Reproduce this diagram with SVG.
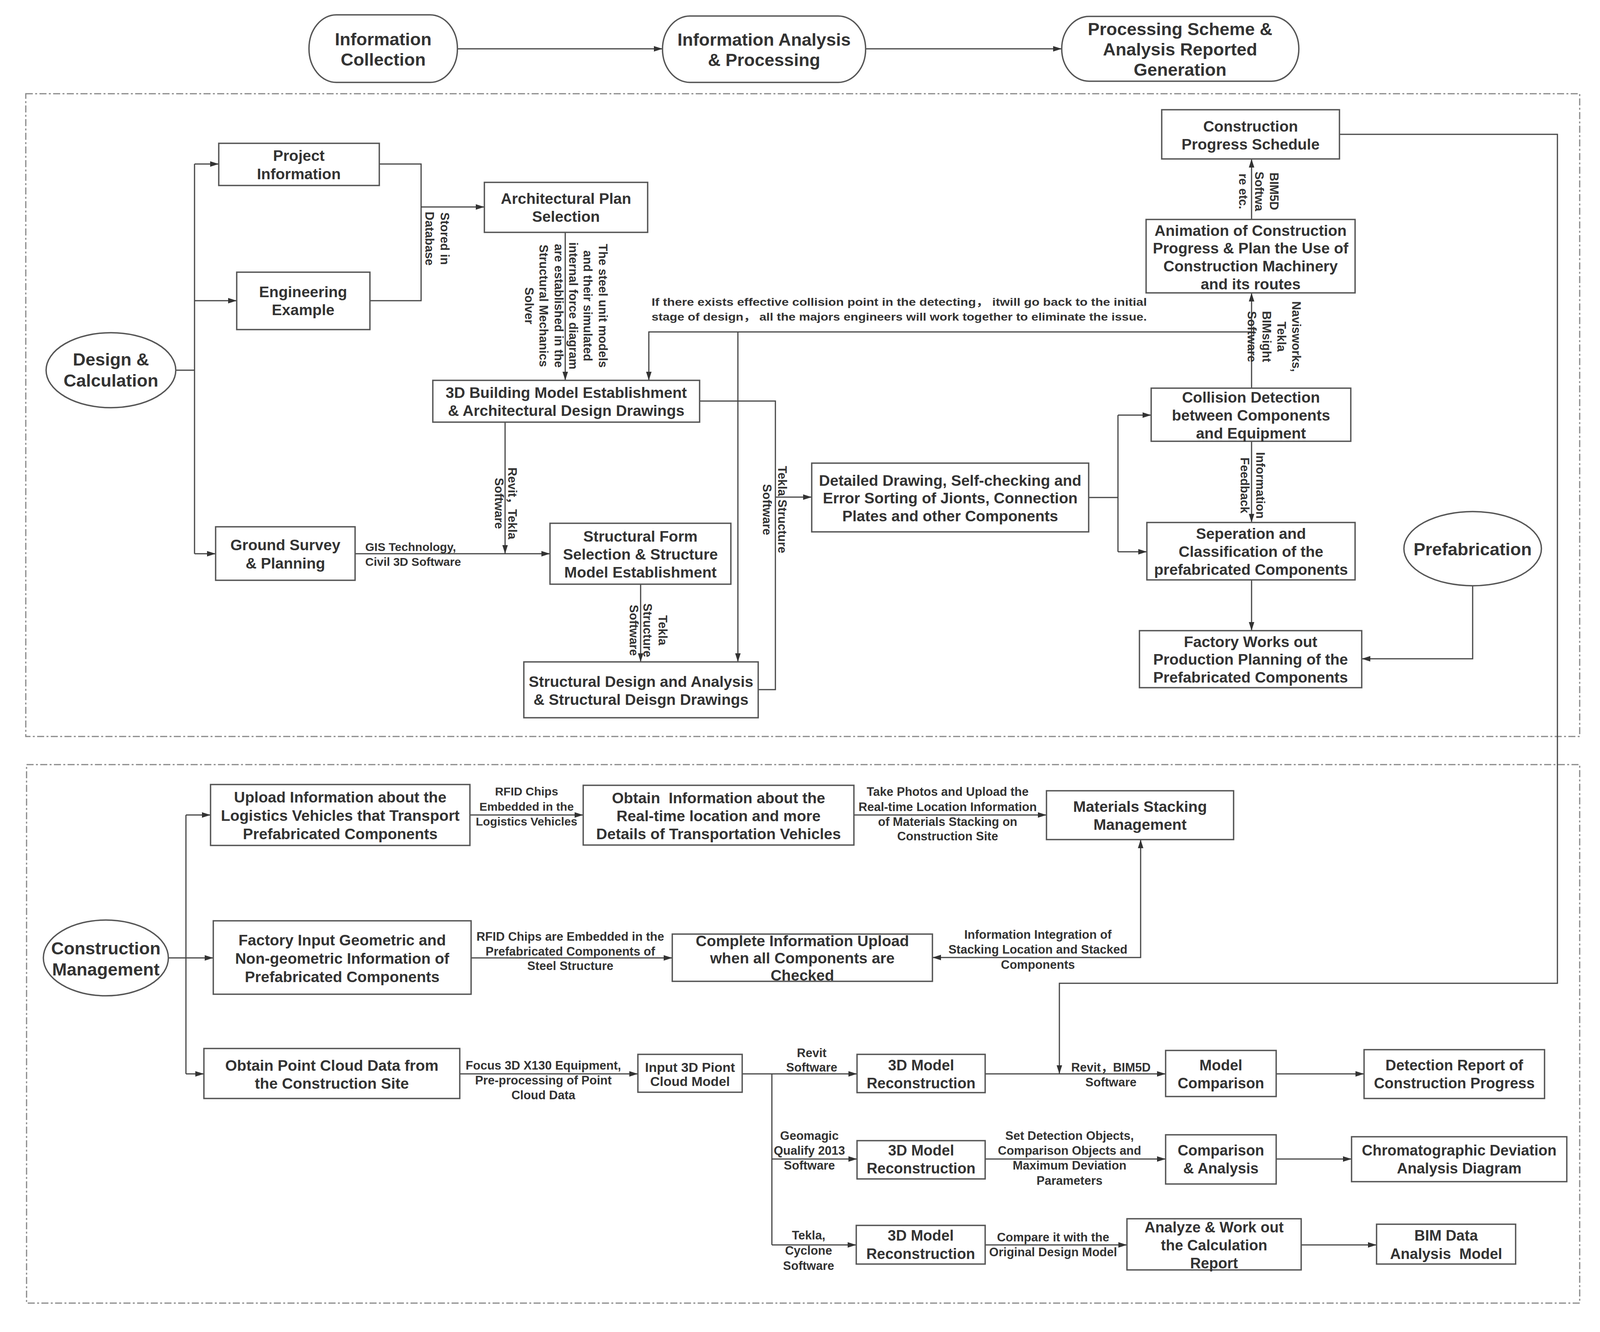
<svg xmlns="http://www.w3.org/2000/svg" width="4106" height="3411" viewBox="0 0 4106 3411">
<style>
.box{fill:#fff;stroke:#555;stroke-width:3.5}
.t{font-family:"Liberation Sans","Noto Sans CJK SC",sans-serif;font-weight:bold;fill:#333;text-anchor:middle;dominant-baseline:central}
.t tspan{dominant-baseline:central}
.s{text-anchor:start}
.f45{font-size:45px}.f39{font-size:39px}.f38{font-size:38px}.f34{font-size:34px}
.l31{font-size:31px}.l30{font-size:30px}.l28{font-size:28px}
.c{fill:none;stroke:#444;stroke-width:3}
.a{marker-end:url(#ah)}
.frame{fill:none;stroke:#888;stroke-width:3;stroke-dasharray:18 6 5 6}
</style>
<defs>
<marker id="ah" markerUnits="userSpaceOnUse" viewBox="0 0 22 14" markerWidth="22" markerHeight="14" refX="22" refY="7" orient="auto-start-reverse"><path d="M0,0 L22,7 L0,14 z" fill="#333"/></marker>
</defs>
<rect width="4106" height="3411" fill="#fff"/>
<g id="frames">
<rect class="frame" x="66" y="240" width="3978" height="1646"/>
<rect class="frame" x="68" y="1958" width="3976" height="1379"/>
</g>
<g id="connectors">
<path class="c a" d="M1171,125 H1696"/>
<path class="c a" d="M2216,125 H2718"/>
<path class="c" d="M450,948 H498"/>
<path class="c" d="M498,420 V1418"/>
<path class="c a" d="M498,420 H560"/>
<path class="c a" d="M498,770 H606"/>
<path class="c a" d="M498,1418 H552"/>
<path class="c" d="M971,420 H1078 V770 H947"/>
<path class="c a" d="M1078,530 H1240"/>
<path class="c a" d="M1447,595 V974"/>
<path class="c a" d="M3204,994 V750"/>
<path class="c a" d="M3204,850 H1661 V974"/>
<path class="c a" d="M1889,850 V1695"/>
<path class="c" d="M1791,1027 H1985 V1766 H1941"/>
<path class="c a" d="M1985,1273 H2078"/>
<path class="c a" d="M1293,1081 V1418"/>
<path class="c a" d="M909,1418 H1408"/>
<path class="c a" d="M1640,1496 V1695"/>
<path class="c" d="M2787,1274 H2862"/>
<path class="c" d="M2862,1063 V1413"/>
<path class="c a" d="M2862,1063 H2947"/>
<path class="c a" d="M2862,1413 H2936"/>
<path class="c a" d="M3204,1130 V1338"/>
<path class="c a" d="M3204,1485 V1615"/>
<path class="c a" d="M3770,1500 V1687 H3486"/>
<path class="c a" d="M3204,562 V407"/>
<path class="c a" d="M3429,344 H3987 V2518 H2712 V2750"/>
<path class="c a" d="M431,2453 H546"/>
<path class="c" d="M476,2087 V2750"/>
<path class="c a" d="M476,2087 H539"/>
<path class="c a" d="M476,2750 H522"/>
<path class="c a" d="M1203,2087 H1493"/>
<path class="c a" d="M2186,2087 H2679"/>
<path class="c a" d="M1206,2453 H1721"/>
<path class="c a" style="marker-start:url(#ah)" d="M2920,2150 V2452 H2387"/>
<path class="c a" d="M1177,2750 H1633"/>
<path class="c a" d="M1900,2750 H2194"/>
<path class="c" d="M1976,2750 V3188"/>
<path class="c a" d="M1976,2968 H2194"/>
<path class="c a" d="M1976,3188 H2192"/>
<path class="c a" d="M2522,2750 H2984"/>
<path class="c a" d="M3267,2750 H3492"/>
<path class="c a" d="M2522,2968 H2984"/>
<path class="c a" d="M3267,2968 H3460"/>
<path class="c a" d="M2522,3188 H2885"/>
<path class="c a" d="M3331,3188 H3524"/>
</g>
<g id="connector-labels">
<text class="t l31" transform="translate(1138,611) rotate(90)">Stored in</text>
<text class="t l31" transform="translate(1099,611) rotate(90)">Database</text>
<text class="t l31" transform="translate(1543,783) rotate(90)">The steel unit models</text>
<text class="t l31" transform="translate(1504,783) rotate(90)">and their simulated</text>
<text class="t l31" transform="translate(1467,783) rotate(90)">internal force diagram</text>
<text class="t l31" transform="translate(1430,783) rotate(90)">are established in the</text>
<text class="t l31" transform="translate(1391,783) rotate(90)">Structural Mechanics</text>
<text class="t l31" transform="translate(1354,783) rotate(90)">Solver</text>
<text class="t l31" transform="translate(1311,1289) rotate(90)">Revit，Tekla</text>
<text class="t l31" transform="translate(1277,1289) rotate(90)">Software</text>
<text class="t l31" transform="translate(2002,1305) rotate(90)">Tekla Structure</text>
<text class="t l31" transform="translate(1963,1305) rotate(90)">Software</text>
<text class="t l31" transform="translate(1696,1614) rotate(90)">Tekla</text>
<text class="t l31" transform="translate(1657,1614) rotate(90)">Structure</text>
<text class="t l31" transform="translate(1622,1614) rotate(90)">Software</text>
<text class="t l31" transform="translate(3318,862) rotate(90)">Navisworks,</text>
<text class="t l31" transform="translate(3280,862) rotate(90)">Tekla</text>
<text class="t l31" transform="translate(3242,862) rotate(90)">BIMsight</text>
<text class="t l31" transform="translate(3204,862) rotate(90)">Software</text>
<text class="t l31" transform="translate(3261,490) rotate(90)">BIM5D</text>
<text class="t l31" transform="translate(3223,490) rotate(90)">Softwa</text>
<text class="t l31" transform="translate(3182,490) rotate(90)">re etc.</text>
<text class="t l31" transform="translate(3226,1243) rotate(90)">Information</text>
<text class="t l31" transform="translate(3186,1243) rotate(90)">Feedback</text>
<text class="t l28 s" textLength="1268" lengthAdjust="spacingAndGlyphs" x="1668" y="773">If there exists effective collision point in the detecting， itwill go back to the initial</text>
<text class="t l28 s" textLength="1268" lengthAdjust="spacingAndGlyphs" x="1668" y="811">stage of design， all the majors engineers will work together to eliminate the issue.</text>
<text class="t l30 s"><tspan x="935" y="1400">GIS Technology,</tspan><tspan x="935" y="1438">Civil 3D Software</tspan></text>
<text class="t l30"><tspan x="1348" y="2026">RFID Chips</tspan><tspan x="1348" y="2065">Embedded in the</tspan><tspan x="1348" y="2103">Logistics Vehicles</tspan></text>
<text class="t l31"><tspan x="2426" y="2027">Take Photos and Upload the</tspan><tspan x="2426" y="2066">Real-time Location Information</tspan><tspan x="2426" y="2104">of Materials Stacking on</tspan><tspan x="2426" y="2141">Construction Site</tspan></text>
<text class="t l31"><tspan x="1460" y="2398">RFID Chips are Embedded in the</tspan><tspan x="1460" y="2436">Prefabricated Components of</tspan><tspan x="1460" y="2473">Steel Structure</tspan></text>
<text class="t l31"><tspan x="2657" y="2393">Information Integration of</tspan><tspan x="2657" y="2431">Stacking Location and Stacked</tspan><tspan x="2657" y="2470">Components</tspan></text>
<text class="t l31"><tspan x="1391" y="2728">Focus 3D X130 Equipment,</tspan><tspan x="1391" y="2766">Pre-processing of Point</tspan><tspan x="1391" y="2804">Cloud Data</tspan></text>
<text class="t l31"><tspan x="2078" y="2696">Revit</tspan><tspan x="2078" y="2733">Software</tspan></text>
<text class="t l31"><tspan x="2072" y="2908">Geomagic</tspan><tspan x="2072" y="2946">Qualify 2013</tspan><tspan x="2072" y="2984">Software</tspan></text>
<text class="t l31"><tspan x="2070" y="3163">Tekla,</tspan><tspan x="2070" y="3202">Cyclone</tspan><tspan x="2070" y="3241">Software</tspan></text>
<text class="t l31"><tspan x="2844" y="2733">Revit，BIM5D</tspan><tspan x="2844" y="2771">Software</tspan></text>
<text class="t l31"><tspan x="2738" y="2908">Set Detection Objects,</tspan><tspan x="2738" y="2946">Comparison Objects and</tspan><tspan x="2738" y="2984">Maximum Deviation</tspan><tspan x="2738" y="3023">Parameters</tspan></text>
<text class="t l31"><tspan x="2696" y="3168">Compare it with the</tspan><tspan x="2696" y="3206">Original Design Model</tspan></text>
</g>
<g id="n-info-collection"><rect class="box" x="791" y="38" width="380" height="173" rx="70" ry="86"/><text class="t f45"><tspan x="981" y="100">Information</tspan><tspan x="981" y="152">Collection</tspan></text></g>
<g id="n-info-analysis"><rect class="box" x="1696" y="41" width="520" height="170" rx="70" ry="85"/><text class="t f45"><tspan x="1956" y="101">Information Analysis</tspan><tspan x="1956" y="153">&amp; Processing</tspan></text></g>
<g id="n-processing-scheme"><rect class="box" x="2718" y="42" width="607" height="166" rx="70" ry="83"/><text class="t f45"><tspan x="3021" y="74">Processing Scheme &amp;</tspan><tspan x="3021" y="126">Analysis Reported</tspan><tspan x="3021" y="178">Generation</tspan></text></g>
<g id="n-design-calc"><ellipse class="box" cx="284" cy="948" rx="166" ry="96"/><text class="t f45"><tspan x="284" y="920">Design &amp;</tspan><tspan x="284" y="974">Calculation</tspan></text></g>
<g id="n-project-info"><rect class="box" x="560" y="367" width="411" height="108"/><text class="t f39"><tspan x="765" y="398">Project</tspan><tspan x="765" y="445">Information</tspan></text></g>
<g id="n-engineering-example"><rect class="box" x="606" y="697" width="341" height="147"/><text class="t f39"><tspan x="776" y="747">Engineering</tspan><tspan x="776" y="793">Example</tspan></text></g>
<g id="n-arch-plan"><rect class="box" x="1240" y="467" width="418" height="128"/><text class="t f39"><tspan x="1449" y="508">Architectural Plan</tspan><tspan x="1449" y="554">Selection</tspan></text></g>
<g id="n-3d-building"><rect class="box" x="1108" y="974" width="683" height="107"/><text class="t f39"><tspan x="1449.5" y="1005">3D Building Model Establishment</tspan><tspan x="1449.5" y="1051">&amp; Architectural Design Drawings</tspan></text></g>
<g id="n-structural-form"><rect class="box" x="1408" y="1340" width="463" height="156"/><text class="t f39"><tspan x="1639.5" y="1373">Structural Form</tspan><tspan x="1639.5" y="1419">Selection &amp; Structure</tspan><tspan x="1639.5" y="1465">Model Establishment</tspan></text></g>
<g id="n-structural-design"><rect class="box" x="1341" y="1695" width="600" height="143"/><text class="t f39"><tspan x="1641" y="1745">Structural Design and Analysis</tspan><tspan x="1641" y="1791">&amp; Structural Deisgn Drawings</tspan></text></g>
<g id="n-ground-survey"><rect class="box" x="552" y="1349" width="357" height="137"/><text class="t f39"><tspan x="730.5" y="1395">Ground Survey</tspan><tspan x="730.5" y="1442">&amp; Planning</tspan></text></g>
<g id="n-detailed-drawing"><rect class="box" x="2078" y="1186" width="709" height="176"/><text class="t f39"><tspan x="2432.5" y="1230">Detailed Drawing, Self-checking and</tspan><tspan x="2432.5" y="1275">Error Sorting of Jionts, Connection</tspan><tspan x="2432.5" y="1321">Plates and other Components</tspan></text></g>
<g id="n-collision"><rect class="box" x="2947" y="994" width="511" height="136"/><text class="t f39"><tspan x="3202.5" y="1017">Collision Detection</tspan><tspan x="3202.5" y="1063">between Components</tspan><tspan x="3202.5" y="1109">and Equipment</tspan></text></g>
<g id="n-seperation"><rect class="box" x="2936" y="1338" width="533" height="147"/><text class="t f39"><tspan x="3202.5" y="1366">Seperation and</tspan><tspan x="3202.5" y="1412">Classification of the</tspan><tspan x="3202.5" y="1458">prefabricated Components</tspan></text></g>
<g id="n-factory-works"><rect class="box" x="2917" y="1615" width="569" height="146"/><text class="t f39"><tspan x="3201.5" y="1643">Factory Works out</tspan><tspan x="3201.5" y="1688">Production Planning of the</tspan><tspan x="3201.5" y="1734">Prefabricated Components</tspan></text></g>
<g id="n-prefabrication"><ellipse class="box" cx="3770" cy="1405" rx="176" ry="95"/><text class="t f45" x="3770" y="1406">Prefabrication</text></g>
<g id="n-animation"><rect class="box" x="2934" y="562" width="535" height="188"/><text class="t f39"><tspan x="3201.5" y="590">Animation of Construction</tspan><tspan x="3201.5" y="635">Progress &amp; Plan the Use of</tspan><tspan x="3201.5" y="681">Construction Machinery</tspan><tspan x="3201.5" y="727">and its routes</tspan></text></g>
<g id="n-progress-schedule"><rect class="box" x="2974" y="281" width="455" height="126"/><text class="t f39"><tspan x="3201.5" y="323">Construction</tspan><tspan x="3201.5" y="369">Progress Schedule</tspan></text></g>
<g id="n-construction-mgmt"><ellipse class="box" cx="271" cy="2453" rx="160" ry="97"/><text class="t f45"><tspan x="271" y="2428">Construction</tspan><tspan x="271" y="2482">Management</tspan></text></g>
<g id="n-upload-info"><rect class="box" x="539" y="2009" width="664" height="156"/><text class="t f39"><tspan x="871" y="2041">Upload Information about the</tspan><tspan x="871" y="2088">Logistics Vehicles that Transport</tspan><tspan x="871" y="2135">Prefabricated Components</tspan></text></g>
<g id="n-factory-input"><rect class="box" x="546" y="2358" width="660" height="188"/><text class="t f39"><tspan x="876" y="2407">Factory Input Geometric and</tspan><tspan x="876" y="2454">Non-geometric Information of</tspan><tspan x="876" y="2501">Prefabricated Components</tspan></text></g>
<g id="n-obtain-info"><rect class="box" x="1493" y="2011" width="693" height="153"/><text class="t f39" xml:space="preserve"><tspan x="1839.5" y="2043">Obtain  Information about the</tspan><tspan x="1839.5" y="2089">Real-time location and more</tspan><tspan x="1839.5" y="2135">Details of Transportation Vehicles</tspan></text></g>
<g id="n-materials-stacking"><rect class="box" x="2679" y="2025" width="479" height="125"/><text class="t f39"><tspan x="2918.5" y="2065">Materials Stacking</tspan><tspan x="2918.5" y="2111">Management</tspan></text></g>
<g id="n-complete-upload"><rect class="box" x="1721" y="2392" width="666" height="121"/><text class="t f39"><tspan x="2054" y="2409">Complete Information Upload</tspan><tspan x="2054" y="2453">when all Components are</tspan><tspan x="2054" y="2497">Checked</tspan></text></g>
<g id="n-point-cloud"><rect class="box" x="522" y="2685" width="655" height="128"/><text class="t f39"><tspan x="849.5" y="2728">Obtain Point Cloud Data from</tspan><tspan x="849.5" y="2774">the Construction Site</tspan></text></g>
<g id="n-input-3d"><rect class="box" x="1633" y="2700" width="267" height="97"/><text class="t f34"><tspan x="1766.5" y="2733">Input 3D Piont</tspan><tspan x="1766.5" y="2769">Cloud Model</tspan></text></g>
<g id="n-recon-1"><rect class="box" x="2194" y="2700" width="328" height="98"/><text class="t f38"><tspan x="2358" y="2728">3D Model</tspan><tspan x="2358" y="2774">Reconstruction</tspan></text></g>
<g id="n-recon-2"><rect class="box" x="2194" y="2921" width="328" height="98"/><text class="t f38"><tspan x="2358" y="2946">3D Model</tspan><tspan x="2358" y="2992">Reconstruction</tspan></text></g>
<g id="n-recon-3"><rect class="box" x="2192" y="3138" width="330" height="99"/><text class="t f38"><tspan x="2357" y="3164">3D Model</tspan><tspan x="2357" y="3211">Reconstruction</tspan></text></g>
<g id="n-model-comparison"><rect class="box" x="2984" y="2690" width="283" height="118"/><text class="t f38"><tspan x="3125.5" y="2728">Model</tspan><tspan x="3125.5" y="2774">Comparison</tspan></text></g>
<g id="n-detection-report"><rect class="box" x="3492" y="2688" width="462" height="125"/><text class="t f38"><tspan x="3723" y="2728">Detection Report of</tspan><tspan x="3723" y="2774">Construction Progress</tspan></text></g>
<g id="n-comparison-analysis"><rect class="box" x="2984" y="2906" width="283" height="126"/><text class="t f38"><tspan x="3125.5" y="2946">Comparison</tspan><tspan x="3125.5" y="2992">&amp; Analysis</tspan></text></g>
<g id="n-chromatographic"><rect class="box" x="3460" y="2911" width="551" height="115"/><text class="t f38"><tspan x="3735.5" y="2946">Chromatographic Deviation</tspan><tspan x="3735.5" y="2992">Analysis Diagram</tspan></text></g>
<g id="n-analyze-report"><rect class="box" x="2885" y="3121" width="446" height="131"/><text class="t f38"><tspan x="3108" y="3143">Analyze &amp; Work out</tspan><tspan x="3108" y="3189">the Calculation</tspan><tspan x="3108" y="3235">Report</tspan></text></g>
<g id="n-bim-data"><rect class="box" x="3524" y="3135" width="356" height="102"/><text class="t f38" xml:space="preserve"><tspan x="3702" y="3164">BIM Data</tspan><tspan x="3702" y="3211">Analysis  Model</tspan></text></g>
</svg>
